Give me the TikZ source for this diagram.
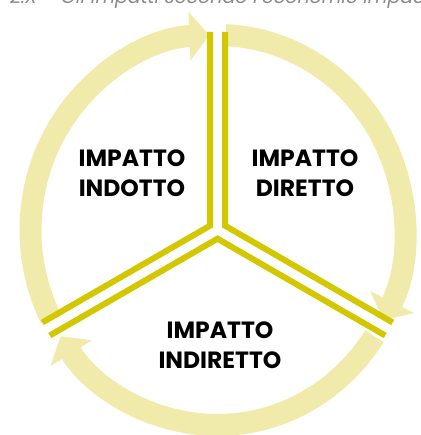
\documentclass[tikz,border=0pt]{standalone}
\usepackage{fontspec}
\setmainfont{Poppins}
\usepackage{xcolor}
\usetikzlibrary{arrows.meta, calc}
\definecolor{spokeyellow}{HTML}{D3C700}
\definecolor{arrowyellow}{HTML}{F1EBAB}
\definecolor{captiongray}{HTML}{8A8A8A}

\begin{document}
\begin{tikzpicture}[x=1pt, y=1pt,
    flow/.style={arrowyellow, line width=22pt, -{Triangle[width=48pt, length=20pt]}},
    spoke/.style={spokeyellow, line width=6pt, line join=miter},
    impactlabel/.style={font=\bfseries\fontsize{23.5}{30}\selectfont, align=center}]
    % Frame
    \useasboundingbox (0,0) rectangle (420,435);
    \clip (0,0) rectangle (420,435);

    % Caption cut off at the top
    \node[anchor=base west, inner sep=0pt, text=captiongray,
          font=\itshape\fontsize{19}{22}\selectfont] (caption) at (10,431)
        {2.X -- Gli impatti secondo l'economic impact analysis};

    % Centre of the cycle
    \coordinate (ctr) at (217.5,205);

    % Circular arrows (clockwise)
    \draw[flow] ($(ctr)+(207:187 and 195)$) arc[start angle=207, end angle=92.5, x radius=187, y radius=195];
    \draw[flow] ($(ctr)+(87.5:187 and 195)$) arc[start angle=87.5, end angle=-27.5, x radius=187, y radius=195];
    \draw[flow] ($(ctr)+(-33:187 and 195)$) arc[start angle=-33, end angle=-147, x radius=187, y radius=195];

    % Double spokes
    \coordinate (topL) at (210,403);
    \coordinate (topR) at (225,403);
    \coordinate (leftU) at (42.3,112.5);
    \coordinate (leftD) at (49.8,99.5);
    \coordinate (rightU) at (392.7,112.5);
    \coordinate (rightD) at (385.2,99.5);
    \coordinate (vA) at (210,209.3);
    \coordinate (vB) at (225,209.3);
    \coordinate (vC) at (217.5,196.3);
    \draw[spoke] (topL) -- (vA) -- (leftU);
    \draw[spoke] (topR) -- (vB) -- (rightU);
    \draw[spoke] (leftD) -- (vC) -- (rightD);

    % Labels
    \node[impactlabel] (indotto) at (132,262) {IMPATTO\\INDOTTO};
    \node[impactlabel] (diretto) at (305,262) {IMPATTO\\DIRETTO};
    \node[impactlabel] (indiretto) at (220,90) {IMPATTO\\INDIRETTO};

\end{tikzpicture}
\end{document}
